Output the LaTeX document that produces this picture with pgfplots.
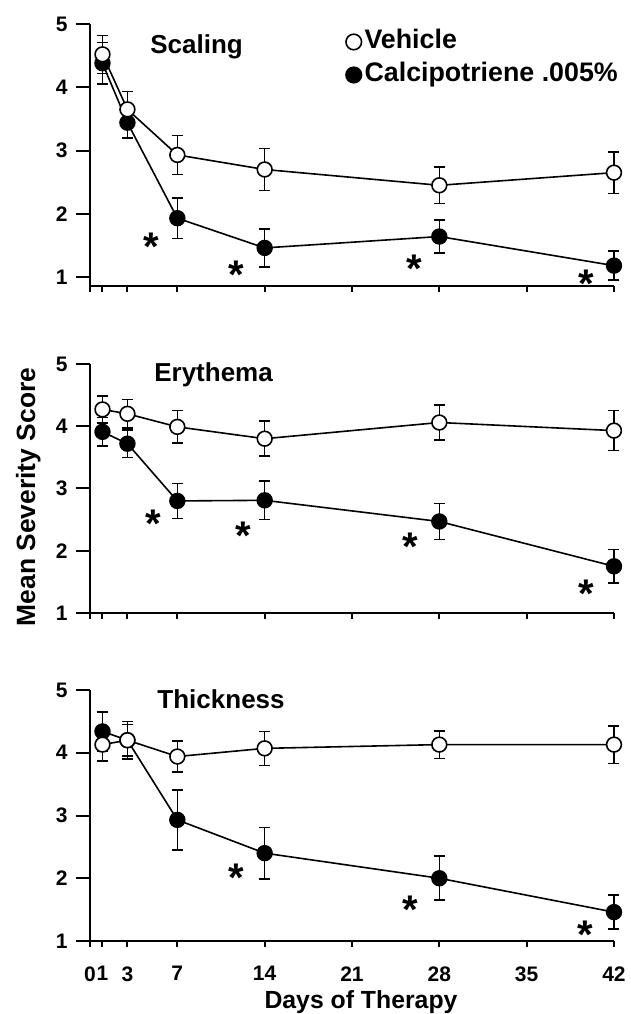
\documentclass[border=0pt]{standalone}
\usepackage{fontspec}
\setmainfont{Liberation Sans}
\usepackage{pgfplots}
\usepackage{pgfplotstable}
\pgfplotsset{compat=1.18}

% day  mean  error
\pgfplotstableread{
x y e
1 4.52 0.30
3 3.65 0.28
7 2.93 0.31
14 2.70 0.33
28 2.45 0.29
42 2.65 0.33
}\scalveh
\pgfplotstableread{
x y e
1 4.38 0.33
3 3.44 0.24
7 1.93 0.32
14 1.46 0.30
28 1.64 0.26
42 1.18 0.23
}\scalcal
\pgfplotstableread{
x y e
1 4.27 0.22
3 4.20 0.23
7 3.99 0.26
14 3.80 0.28
28 4.06 0.28
42 3.93 0.32
}\eryveh
\pgfplotstableread{
x y e
1 3.91 0.23
3 3.72 0.22
7 2.80 0.28
14 2.81 0.31
28 2.47 0.29
42 1.75 0.27
}\erycal
\pgfplotstableread{
x y e
1 4.13 0.26
3 4.20 0.30
7 3.94 0.25
14 4.07 0.27
28 4.13 0.22
42 4.13 0.30
}\thkveh
\pgfplotstableread{
x y e
1 4.34 0.31
3 4.20 0.25
7 2.93 0.48
14 2.40 0.41
28 2.00 0.35
42 1.46 0.27
}\thkcal

\pgfplotsset{
  panel/.style={
    scale only axis, width=262pt, anchor=south west,
    xmin=0, xmax=42, ymax=5,
    axis x line*=bottom, axis y line*=left,
    xtick={0,1,3,7,14,21,28,35,42}, ytick={1,2,3,4,5},
    tick align=outside, major tick length=7pt,
    xtick style={/pgfplots/major tick length=3pt},
    axis line style={line width=1pt, black},
    tick style={line width=1pt, black},
    tick label style={font=\bfseries\fontsize{10.5}{12}\selectfont, inner sep=0pt},
    yticklabel style={xshift=-4pt},
    xticklabel style={yshift=-5.5pt},
    /pgf/number format/assume math mode=true,
    clip=false,
  },
  ser/.style={black, line width=0.8pt, mark=*, mark size=3.7pt,
    error bars/y dir=both, error bars/y explicit,
    error bars/error bar style={line width=0.8pt, black},
    error bars/error mark options={rotate=90, mark size=2.75pt, line width=0.8pt, black}},
  veh/.style={ser, mark options={fill=white, draw=black, line width=0.8pt}},
  cal/.style={ser, mark options={fill=black, draw=black, line width=0.8pt}},
}
\tikzset{
  ttl/.style={anchor=base west, inner sep=0pt, font=\bfseries\fontsize{13}{15}\selectfont},
  star/.style={inner sep=0pt, yshift=-4.4pt, font=\bfseries\fontsize{20}{20}\selectfont},
}

\begin{document}
\begin{tikzpicture}
\path[use as bounding box] (0,0) rectangle (315.5pt,507pt);

% Scaling
\begin{axis}[panel, at={(45pt,364pt)}, height=131pt, ymin=0.858, xticklabels={},
  legend style={at={(0.4885,0.981)}, anchor=north west, draw=none, fill=none,
    inner sep=0pt, outer sep=0pt, font=\bfseries\fontsize{13.4}{16}\selectfont,
    row sep=3.5pt, column sep=1.5pt,
    nodes={inner sep=0pt, text height=10pt, text depth=3pt}},
  legend cell align=left, reverse legend,
  legend image code/.code={\draw[#1, mark size=3.9pt] plot coordinates {(0pt,0pt)};},
]
\addplot[cal] table[x=x, y=y, y error=e] {\scalcal};
\addplot[veh] table[x=x, y=y, y error=e] {\scalveh};
\legend{Calcipotriene .005\%, Vehicle}
\node[ttl] at (rel axis cs:0.1145,0.889) {Scaling};
\node[star] at (axis cs:4.95,1.61) {*};
\node[star] at (axis cs:11.7,1.18) {*};
\node[star] at (axis cs:26.0,1.27) {*};
\node[star] at (axis cs:39.8,1.03) {*};
\end{axis}

% Erythema
\begin{axis}[panel, at={(45pt,200.5pt)}, height=124.5pt, ymin=1, xticklabels={}]
\addplot[cal] table[x=x, y=y, y error=e] {\erycal};
\addplot[veh] table[x=x, y=y, y error=e] {\eryveh};
\node[ttl] at (rel axis cs:0.122,0.928) {Erythema};
\node[star] at (axis cs:5.1,2.58) {*};
\node[star] at (axis cs:12.3,2.39) {*};
\node[star] at (axis cs:25.7,2.20) {*};
\node[star] at (axis cs:39.8,1.45) {*};
\end{axis}

% Thickness
\begin{axis}[panel, at={(45pt,36.5pt)}, height=125.5pt, ymin=1,
  xticklabels={0,1,3,7,14,21,28,35,42}]
\addplot[cal] table[x=x, y=y, y error=e] {\thkcal};
\addplot[veh] table[x=x, y=y, y error=e] {\thkveh};
\node[ttl] at (rel axis cs:0.128,0.928) {Thickness};
\node[star] at (axis cs:11.7,2.15) {*};
\node[star] at (axis cs:25.65,1.64) {*};
\node[star] at (axis cs:39.7,1.24) {*};
\end{axis}

\node[rotate=90, anchor=base, inner sep=0pt, font=\bfseries\fontsize{13.2}{15}\selectfont]
  at (17.5pt,258.5pt) {Mean Severity Score};
\node[anchor=base, inner sep=0pt, font=\bfseries\fontsize{12.4}{15}\selectfont]
  at (180.5pt,2.5pt) {Days of Therapy};
\end{tikzpicture}
\end{document}
